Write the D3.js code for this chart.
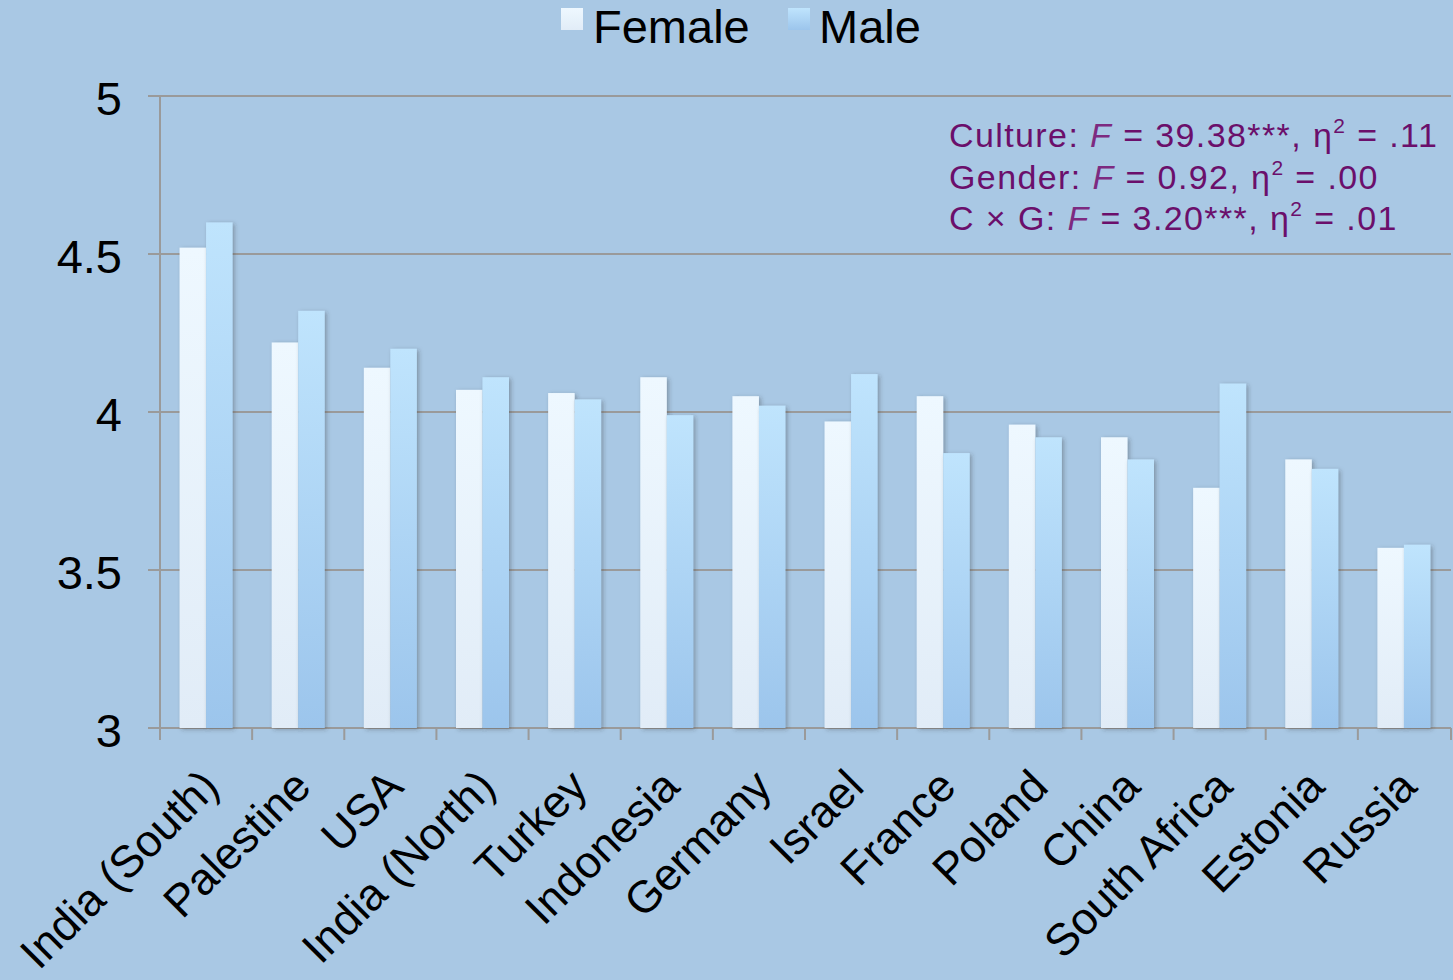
<!DOCTYPE html>
<html>
<head>
<meta charset="utf-8">
<script src="https://cdn.jsdelivr.net/npm/d3@7"></script>
<style>
  html, body { margin: 0; padding: 0; background: #a9c8e4; }
  svg { display: block; font-family: "Liberation Sans", Arial, Helvetica, sans-serif; }
</style>
</head>
<body>
<div id="chart"></div>
<script>
// chart data
var countries = ["India (South)", "Palestine", "USA", "India (North)", "Turkey", "Indonesia",
    "Germany", "Israel", "France", "Poland", "China", "South Africa", "Estonia", "Russia"];
var female = [4.52, 4.22, 4.14, 4.07, 4.06, 4.11, 4.05, 3.97, 4.05, 3.96, 3.92, 3.76, 3.85, 3.57];
var male   = [4.60, 4.32, 4.20, 4.11, 4.04, 3.99, 4.02, 4.12, 3.87, 3.92, 3.85, 4.09, 3.82, 3.58];
var seriesNames = ["Female", "Male"];
var yTicks = [3, 3.5, 4, 4.5, 5];
var statLines = [
    ["Culture: ", "F", " = 39.38***, η", "2", " = .11"],
    ["Gender: ", "F", " = 0.92, η", "2", " = .00"],
    ["C × G: ", "F", " = 3.20***, η", "2", " = .01"]
];

var svgWidth = 1453, svgHeight = 980;
var margin = { top: 96, left: 160, right: 3, bottom: 252 };
var chartWidth = svgWidth - margin.left - margin.right;
var chartHeight = svgHeight - margin.top - margin.bottom;

var svg = d3.select("#chart").append("svg")
    .attr("width", svgWidth)
    .attr("height", svgHeight);

svg.append("rect").attr("width", svgWidth).attr("height", svgHeight).attr("fill", "#a9c8e4");

// gradients + shadow
var defs = svg.append("defs");
var grads = [
    { id: "gFemale", top: "#eef8ff", bottom: "#e1ecf7" },
    { id: "gMale", top: "#bfe4fd", bottom: "#9cc5ec" }
];
grads.forEach(function(g) {
    var lg = defs.append("linearGradient").attr("id", g.id)
        .attr("x1", 0).attr("y1", 0).attr("x2", 0).attr("y2", 1);
    lg.append("stop").attr("offset", "0%").attr("stop-color", g.top);
    lg.append("stop").attr("offset", "100%").attr("stop-color", g.bottom);
});
var f = defs.append("filter").attr("id", "shadow")
    .attr("x", "-30%").attr("y", "-5%").attr("width", "160%").attr("height", "110%");
f.append("feDropShadow").attr("dx", 2).attr("dy", 1.5).attr("stdDeviation", 2)
    .attr("flood-color", "#333").attr("flood-opacity", 0.35);

var chartGroup = svg.append("g")
    .attr("transform", `translate(${margin.left}, ${margin.top})`);

// scales
var x0 = d3.scaleBand()
    .domain(countries)
    .range([0, chartWidth])
    .paddingInner(0.425)
    .paddingOuter(0.2125);
var x1 = d3.scaleBand()
    .domain(seriesNames)
    .range([0, x0.bandwidth()]);
var yScale = d3.scaleLinear()
    .domain([3, 5])
    .range([chartHeight, 0]);

// gridlines
chartGroup.append("g")
    .selectAll("line")
    .data(yTicks)
    .enter()
    .append("line")
    .attr("x1", -12)
    .attr("x2", chartWidth + 1)
    .attr("y1", d => yScale(d))
    .attr("y2", d => yScale(d))
    .attr("stroke", "#9a9a9a")
    .attr("stroke-width", 2);

// y axis
var yAxis = d3.axisLeft(yScale).tickValues(yTicks).tickFormat(d3.format("")).tickSize(0).tickPadding(38);
var yG = chartGroup.append("g").call(yAxis);
yG.select(".domain").remove();
yG.selectAll("text").attr("font-size", 47).attr("fill", "#000")
    .attr("dy", "0.4em")
    .attr("font-family", "Liberation Sans, Arial, sans-serif");
chartGroup.append("line")
    .attr("x1", 0).attr("x2", 0).attr("y1", 0).attr("y2", chartHeight + 12)
    .attr("stroke", "#9a9a9a").attr("stroke-width", 2);

// x ticks at band boundaries
var bounds = countries.map(c => x0(c) - x0.step() * x0.paddingInner() / 2);
bounds.push(chartWidth + 1);
chartGroup.append("g")
    .selectAll("line")
    .data(bounds)
    .enter()
    .append("line")
    .attr("x1", d => d).attr("x2", d => d)
    .attr("y1", chartHeight).attr("y2", chartHeight + 12)
    .attr("stroke", "#9a9a9a").attr("stroke-width", 2);

// bars
var rows = countries.map((c, i) => ({ country: c, values: [
    { key: "Female", value: female[i] },
    { key: "Male", value: male[i] }
]}));

var groups = chartGroup.selectAll(".grp")
    .data(rows)
    .enter()
    .append("g")
    .attr("class", "grp")
    .attr("transform", d => `translate(${x0(d.country)},0)`);

groups.selectAll("rect")
    .data(d => d.values)
    .enter()
    .append("rect")
    .attr("x", d => x1(d.key))
    .attr("y", d => yScale(d.value))
    .attr("width", x1.bandwidth())
    .attr("height", d => chartHeight - yScale(d.value))
    .attr("fill", d => d.key === "Female" ? "url(#gFemale)" : "url(#gMale)")
    .attr("filter", "url(#shadow)");

// category labels
chartGroup.append("g")
    .selectAll("text")
    .data(countries)
    .enter()
    .append("text")
    .attr("transform", d => `translate(${x0(d) + x0.bandwidth() / 2 + 15}, ${chartHeight + 61}) rotate(-45)`)
    .attr("text-anchor", "end")
    .attr("font-size", 45)
    .attr("fill", "#000")
    .text(d => d);

// legend
var legend = svg.append("g");
var legendItems = [
    { name: "Female", fill: "url(#gFemale)", x: 561, tx: 593 },
    { name: "Male", fill: "url(#gMale)", x: 788, tx: 819 }
];
legendItems.forEach(function(l) {
    legend.append("rect").attr("x", l.x).attr("y", 8).attr("width", 22).attr("height", 22)
        .attr("fill", l.fill);
    legend.append("text").attr("x", l.tx).attr("y", 43).attr("font-size", 47)
        .attr("fill", "#000").text(l.name);
});

// stats annotation
var stats = svg.append("g");
statLines.forEach(function(parts, i) {
    var t = stats.append("text")
        .attr("x", 949)
        .attr("y", 147 + i * 41.5)
        .attr("font-size", 34)
        .attr("letter-spacing", 1.4)
        .attr("fill", "#6b0f6b");
    t.append("tspan").text(parts[0]);
    t.append("tspan").attr("font-style", "italic").attr("fill", "#7d2a80").text(parts[1]);
    t.append("tspan").text(parts[2]);
    t.append("tspan").attr("font-size", 21).attr("dy", -14).text(parts[3]);
    t.append("tspan").attr("dy", 14).text(parts[4]);
});
</script>
</body>
</html>
